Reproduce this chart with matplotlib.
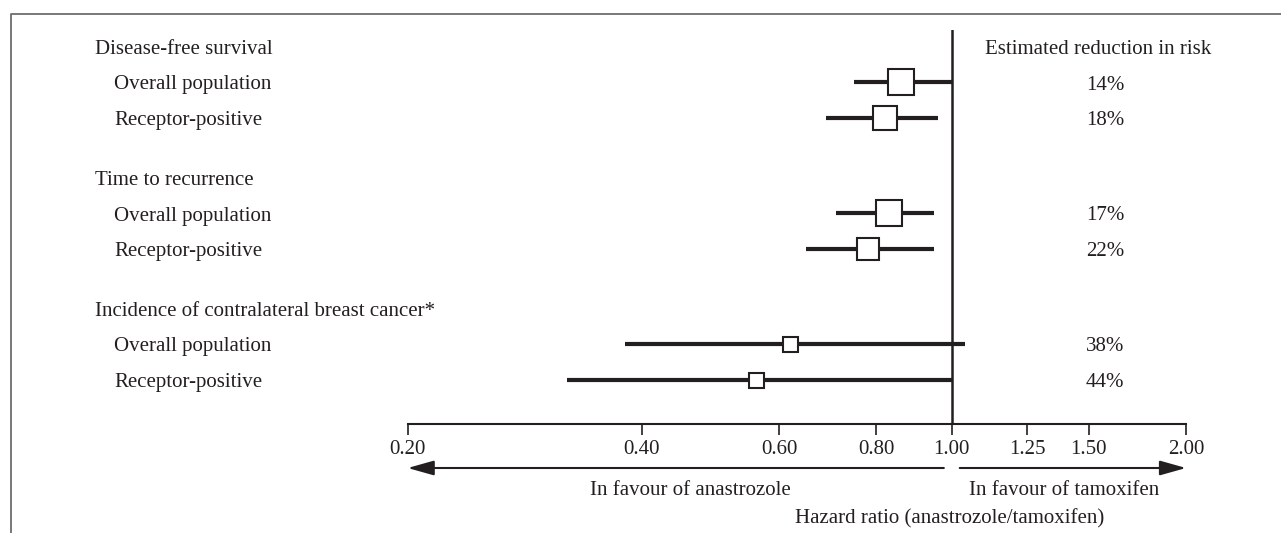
import matplotlib
matplotlib.use("Agg")
import matplotlib.pyplot as plt
import matplotlib.transforms as mtransforms
from matplotlib.lines import Line2D
from matplotlib.ticker import NullLocator

# data
groups = ["Disease-free survival", "Time to recurrence",
          "Incidence of contralateral breast cancer*"]
subgroups = ["Overall population", "Receptor-positive"]
hr = [0.86, 0.82, 0.83, 0.78, 0.62, 0.56]
ci_low = [0.75, 0.69, 0.71, 0.65, 0.38, 0.32]
ci_high = [1.00, 0.96, 0.95, 0.95, 1.04, 1.00]
reduction = ["14%", "18%", "17%", "22%", "38%", "44%"]
ticks = [0.20, 0.40, 0.60, 0.80, 1.00, 1.25, 1.50, 2.00]

# box size of each estimate (pixels)
box_px = [27, 24, 27, 23, 15, 15]

plt.rcParams['font.family'] = ['Liberation Serif', 'DejaVu Serif']
dark = '#231f20'
fs = 15

W, H = 1281, 533
fig = plt.figure(figsize=(W / 100, H / 100), dpi=100)

# axes spans 0.20 .. 2.00 horizontally, y in pixel rows
x0, x1 = 407.7, 1186
y_top, y_bot = 30, 424
ax = fig.add_axes([x0 / W, 1 - y_bot / H, (x1 - x0) / W, (y_bot - y_top) / H])
ax.set_xscale('log')
ax.set_xlim(0.2, 2.0)
ax.set_ylim(y_bot, y_top)

# row layout
row_y = []
header_y = []
y = 82.5
for g in groups:
    header_y.append(y - 28.5)
    for s in subgroups:
        row_y.append(y)
        y += 35.5
    y += 60

ax.axvline(1.0, color=dark, lw=1.8, zorder=2)
ax.hlines(row_y, ci_low, ci_high, color=dark, lw=3, zorder=2)
for i in range(len(hr)):
    ax.plot(hr[i], row_y[i], marker='s', ms=box_px[i] * 0.72, mfc='white',
            mec=dark, mew=1.5, zorder=3)

for side in ['top', 'left', 'right']:
    ax.spines[side].set_visible(False)
ax.spines['bottom'].set_linewidth(1.5)
ax.spines['bottom'].set_color(dark)
ax.set_xticks(ticks)
ax.set_xticklabels(["%.2f" % t for t in ticks])
ax.xaxis.set_minor_locator(NullLocator())
ax.tick_params(axis='x', direction='out', length=8, width=1.2, pad=3.5,
               labelsize=fs, colors=dark)
ax.set_yticks([])
ax.patch.set_visible(False)

trans = mtransforms.blended_transform_factory(fig.transFigure, ax.transData)
k = 0
for gi, g in enumerate(groups):
    ax.text(95 / W, header_y[gi], g, transform=trans, fontsize=fs, color=dark,
            va='baseline', ha='left')
    for s in subgroups:
        ax.text(114 / W, row_y[k] + 7, s, transform=trans, fontsize=fs,
                color=dark, va='baseline', ha='left')
        ax.text(1105 / W, row_y[k] + 7, reduction[k], transform=trans,
                fontsize=fs, color=dark, va='baseline', ha='center')
        k += 1
ax.text(1098 / W, header_y[0], "Estimated reduction in risk", transform=trans,
        fontsize=fs, color=dark, va='baseline', ha='center')

# direction arrows
arrow = dict(arrowstyle='-|>,head_length=1.6,head_width=0.45', lw=1.5,
             color=dark, shrinkA=0, shrinkB=0, mutation_scale=10)
ax.annotate('', xy=(0.2, 468), xytext=(0.977, 468), arrowprops=arrow,
            annotation_clip=False)
ax.annotate('', xy=(2.0, 468), xytext=(1.024, 468), arrowprops=arrow,
            annotation_clip=False)
ax.text(690 / W, 495, "In favour of anastrozole", transform=trans,
        fontsize=fs, color=dark, va='baseline', ha='center')
ax.text(1064 / W, 495, "In favour of tamoxifen", transform=trans,
        fontsize=fs, color=dark, va='baseline', ha='center')
ax.text(950 / W, 523, "Hazard ratio (anastrozole/tamoxifen)", transform=trans,
        fontsize=fs, color=dark, va='baseline', ha='center')

# frame (left and top only)
fig.add_artist(Line2D([11 / W, 11 / W, 1], [0, 1 - 14 / H, 1 - 14 / H],
                      transform=fig.transFigure, color='#6d6d6d', lw=1.3))

fig.savefig('out.png', dpi=100)
